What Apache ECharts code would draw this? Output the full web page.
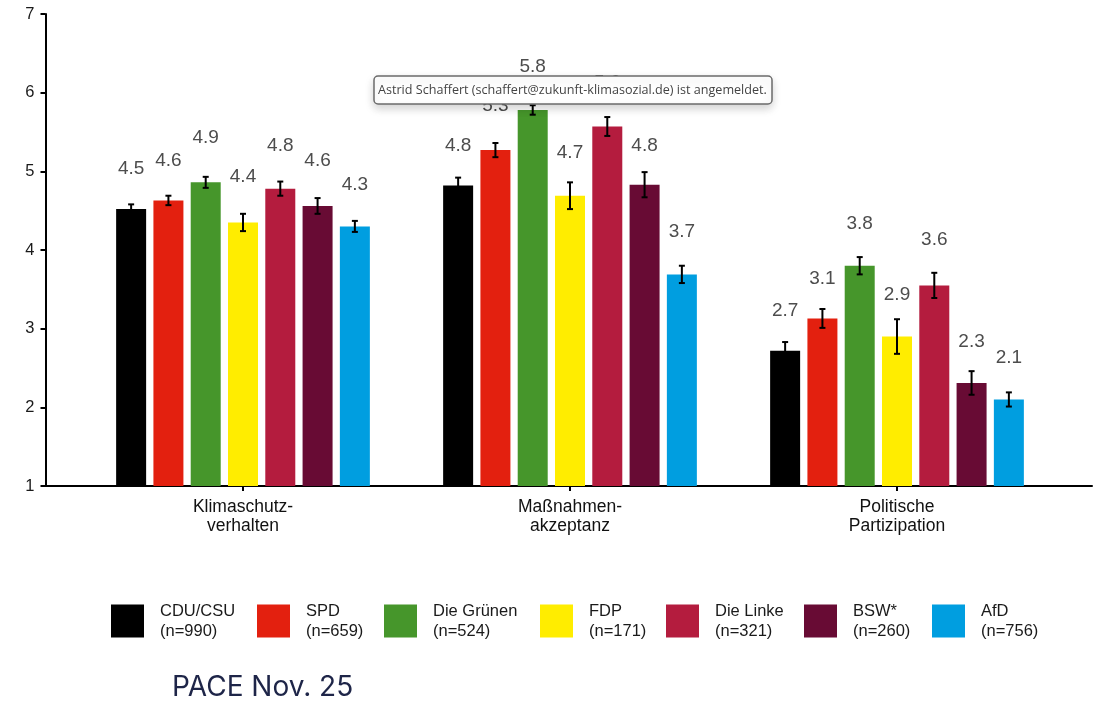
<!DOCTYPE html>
<html>
<head>
<meta charset="utf-8">
<script src="https://cdn.jsdelivr.net/npm/echarts@6/dist/echarts.min.js"></script>
<style>
html,body{margin:0;padding:0;background:#fff;}
#c{width:1097px;height:702px;}
</style>
</head>
<body>
<div id="c"></div>
<script>
var categories = ['Klimaschutz-\nverhalten', 'Maßnahmen-\nakzeptanz', 'Politische\nPartizipation'];
var parties = ['CDU/CSU', 'SPD', 'Die Grünen', 'FDP', 'Die Linke', 'BSW*', 'AfD'];
var nCounts = [990, 659, 524, 171, 321, 260, 756];
var partyColors = ['#000000', '#E3200F', '#46962B', '#FFED00', '#B41C3E', '#680B34', '#009EE0'];

var meansCDU    = [4.52, 4.82, 2.72];
var meansSPD    = [4.63, 5.27, 3.13];
var meansGruene = [4.86, 5.78, 3.80];
var meansFDP    = [4.35, 4.69, 2.90];
var meansLinke  = [4.78, 5.57, 3.55];
var meansBSW    = [4.56, 4.83, 2.31];
var meansAfD    = [4.30, 3.69, 2.10];

var errCDU    = [0.06, 0.10, 0.11];
var errSPD    = [0.06, 0.09, 0.12];
var errGruene = [0.07, 0.06, 0.11];
var errFDP    = [0.11, 0.17, 0.22];
var errLinke  = [0.09, 0.12, 0.16];
var errBSW    = [0.10, 0.16, 0.15];
var errAfD    = [0.07, 0.11, 0.09];

var labCDU    = [4.5, 4.8, 2.7];
var labSPD    = [4.6, 5.3, 3.1];
var labGruene = [4.9, 5.8, 3.8];
var labFDP    = [4.4, 4.7, 2.9];
var labLinke  = [4.8, 5.6, 3.6];
var labBSW    = [4.6, 4.8, 2.3];
var labAfD    = [4.3, 3.7, 2.1];

var yTicks = [1, 7, 1]; // min, max, interval

var allMeans = [meansCDU, meansSPD, meansGruene, meansFDP, meansLinke, meansBSW, meansAfD];
var allErr = [errCDU, errSPD, errGruene, errFDP, errLinke, errBSW, errAfD];
var allLab = [labCDU, labSPD, labGruene, labFDP, labLinke, labBSW, labAfD];

var BAR_W = 30, BAR_GAP = 0.243, PITCH = BAR_W * (1 + BAR_GAP);
var FONT = 'Liberation Sans, Arial, sans-serif';

var chart = echarts.init(document.getElementById('c'));

var series = [];
parties.forEach(function (p, i) {
  series.push({
    type: 'bar', name: p, xAxisIndex: 0, yAxisIndex: 0,
    data: allMeans[i], barWidth: BAR_W, barGap: (BAR_GAP * 100) + '%',
    itemStyle: { color: partyColors[i] }, silent: true, clip: true
  });
});

var errData = [];
parties.forEach(function (p, i) {
  for (var c = 0; c < categories.length; c++) {
    errData.push([c, i, allMeans[i][c], allErr[i][c], allLab[i][c]]);
  }
});

series.push({
  type: 'custom', xAxisIndex: 0, yAxisIndex: 0, silent: true, clip: false, z: 5,
  encode: { x: 0, y: 2 },
  data: errData,
  renderItem: function (params, api) {
    var c = api.value(0), i = api.value(1), m = api.value(2), e = api.value(3), lab = api.value(4);
    var x = api.coord([c, m])[0] + (i - 3) * PITCH;
    var yt = api.coord([c, m + e])[1];
    var yb = api.coord([c, m - e])[1];
    var yl = api.coord([c, lab + 0.53])[1];
    var ls = { stroke: '#000', lineWidth: 2 };
    return {
      type: 'group', children: [
        { type: 'line', shape: { x1: x, y1: yt, x2: x, y2: yb }, style: ls },
        { type: 'line', shape: { x1: x - 3, y1: yt, x2: x + 3, y2: yt }, style: ls },
        { type: 'line', shape: { x1: x - 3, y1: yb, x2: x + 3, y2: yb }, style: ls },
        { type: 'text', x: x, y: yl, style: { text: lab.toFixed(1), fill: '#4d4d4d', fontSize: 19, fontFamily: FONT, align: 'center', verticalAlign: 'middle' } }
      ]
    };
  }
});

// frame axes (full width lines)
series.push({ type: 'line', xAxisIndex: 1, yAxisIndex: 1, data: [], silent: true });

var legendLefts = [111, 257, 384, 540, 666, 804, 932];
var legends = parties.map(function (p, i) {
  return {
    data: [p], left: legendLefts[i], top: 601, orient: 'horizontal', padding: 0,
    itemWidth: 33, itemHeight: 33, icon: 'rect', selectedMode: false,
    textStyle: { fontSize: 16.5, lineHeight: 20, color: '#1a1a1a', fontFamily: FONT, padding: [0, 0, 0, 11] },
    formatter: function (name) { return name + '\n(n=' + nCounts[parties.indexOf(name)] + ')'; }
  };
});

chart.setOption({
  animation: false,
  textStyle: { fontFamily: FONT },
  grid: [
    { left: 79.5, right: 36.5, top: 14, bottom: 216 },
    { left: 45.5, right: 5, top: 14, bottom: 216 }
  ],
  xAxis: [
    {
      type: 'category', gridIndex: 0, data: categories,
      axisLine: { show: false },
      axisTick: { show: true, alignWithLabel: true, length: 5, lineStyle: { color: '#000', width: 2 } },
      axisLabel: { color: '#111', fontSize: 17.5, lineHeight: 19.5, margin: 11, fontFamily: FONT },
      splitLine: { show: false }
    },
    {
      type: 'value', gridIndex: 1, min: 0, max: 1,
      axisLine: { show: true, onZero: false, lineStyle: { color: '#000', width: 2 } },
      axisTick: { show: false }, axisLabel: { show: false }, splitLine: { show: false }
    }
  ],
  yAxis: [
    { type: 'value', gridIndex: 0, min: yTicks[0], max: yTicks[1], interval: yTicks[2], show: false, splitLine: { show: false } },
    {
      type: 'value', gridIndex: 1, min: yTicks[0], max: yTicks[1], interval: yTicks[2],
      axisLine: { show: true, onZero: false, lineStyle: { color: '#000', width: 2 } },
      axisTick: { show: true, length: 5, lineStyle: { color: '#000', width: 2 } },
      axisLabel: { color: '#1a1a1a', fontSize: 16.5, margin: 11, fontFamily: FONT },
      splitLine: { show: false }
    }
  ],
  legend: legends,
  series: series,
  graphic: [
    {
      type: 'rect', z: 100, shape: { x: 374, y: 76, width: 398, height: 28, r: 4 },
      style: { fill: '#fff', stroke: '#6b6b6b', lineWidth: 1.5, shadowBlur: 10, shadowOffsetY: 4, shadowColor: 'rgba(0,0,0,0.18)' }
    },
    {
      type: 'text', z: 101, x: 378, y: 90,
      style: { text: 'Astrid Schaffert (schaffert@zukunft-klimasozial.de) ist angemeldet.', fill: '#444', fontSize: 12.6, fontFamily: 'Open Sans, Noto Sans, sans-serif', verticalAlign: 'middle' }
    },
    {
      type: 'text', z: 100, x: 172, y: 688,
      style: { text: 'PACE Nov. 25', fill: '#1e2548', fontSize: 28, fontFamily: 'Inter, Noto Sans, sans-serif', verticalAlign: 'middle' }
    }
  ]
});
</script>
</body>
</html>
